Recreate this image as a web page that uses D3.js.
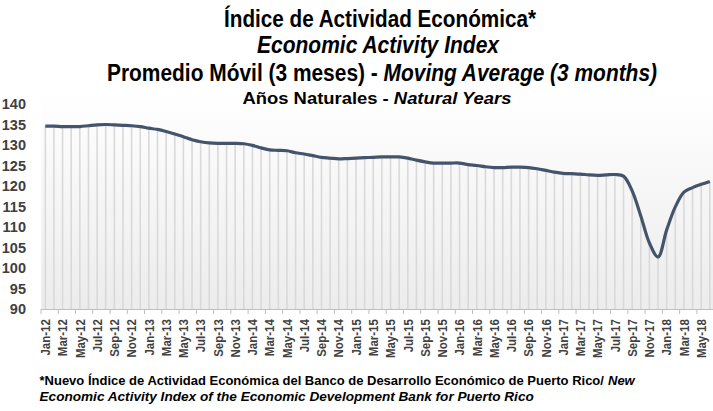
<!DOCTYPE html>
<html>
<head>
<meta charset="utf-8">
<script src="https://cdn.jsdelivr.net/npm/d3@7"></script>
<style>
  html, body { margin: 0; padding: 0; background: #fff; }
  svg { display: block; }
  .narrow { font-family: "Liberation Sans", Arial, sans-serif; font-weight: bold; }
</style>
</head>
<body>
<div id="chart"></div>
<script>
// categorias: meses desde Jan-12 hasta Jun-18
const monthNames = ["Jan", "Feb", "Mar", "Apr", "May", "Jun", "Jul", "Aug", "Sep", "Oct", "Nov", "Dec"];
const years = ["12", "13", "14", "15", "16", "17", "18"];

// valores del indice (promedio movil 3 meses)
const values2012 = [134.6, 134.6, 134.5, 134.5, 134.5, 134.7, 134.9, 135.0, 134.9, 134.8, 134.7, 134.5];
const values2013 = [134.1, 133.8, 133.3, 132.7, 132.0, 131.3, 130.8, 130.5, 130.4, 130.4, 130.4, 130.3];
const values2014 = [129.9, 129.3, 128.8, 128.7, 128.6, 128.1, 127.8, 127.4, 127.0, 126.8, 126.6, 126.7];
const values2015 = [126.8, 126.9, 127.0, 127.1, 127.1, 127.1, 126.8, 126.3, 125.9, 125.6, 125.6, 125.6];
const values2016 = [125.6, 125.2, 125.0, 124.7, 124.5, 124.5, 124.6, 124.6, 124.5, 124.2, 123.8, 123.4];
const values2017 = [123.1, 123.0, 122.9, 122.7, 122.6, 122.7, 122.8, 122.4, 118.8, 112.7, 106.1, 102.7];
const values2018 = [109.3, 114.9, 118.5, 119.6, 120.4, 121.1];

const yTicks = [90, 95, 100, 105, 110, 115, 120, 125, 130, 135, 140];

const values = [].concat(values2012, values2013, values2014, values2015, values2016, values2017, values2018);
const categories = [];
years.forEach(y => monthNames.forEach(m => { if (categories.length < values.length) categories.push(m + "-" + y); }));
const dataset = categories.map((c, i) => ({ cat: c, value: values[i] }));

const width = 713, height = 411;
// area del grafico
const plot = { left: 41, top: 104, bottom: 309, step: 8.63 };
plot.right = plot.left + plot.step * categories.length;

const svg = d3.select("#chart").append("svg")
    .attr("width", width)
    .attr("height", height);

const defs = svg.append("defs");
const grad = defs.append("linearGradient")
    .attr("id", "bgGrad")
    .attr("x1", 0).attr("y1", 0).attr("x2", 0).attr("y2", 1);
grad.append("stop").attr("offset", "0%").attr("stop-color", "#ffffff");
grad.append("stop").attr("offset", "100%").attr("stop-color", "#ececec");

// Escalas
const x = d3.scaleBand()
    .domain(categories)
    .range([plot.left, plot.right])
    .padding(0);

const y = d3.scaleLinear()
    .domain([90, 140])
    .range([plot.bottom, plot.top]);

// fondo del area
svg.append("rect")
    .attr("x", plot.left)
    .attr("y", y(140) - 12)
    .attr("width", plot.right - plot.left)
    .attr("height", plot.bottom - y(140) + 12)
    .attr("fill", "url(#bgGrad)");

const cx = d => x(d.cat) + x.bandwidth() / 2;

// lineas verticales (drop lines)
svg.append("g")
    .selectAll("line")
    .data(dataset)
    .enter()
    .append("line")
    .attr("x1", cx)
    .attr("x2", cx)
    .attr("y1", d => y(d.value))
    .attr("y2", plot.bottom)
    .attr("stroke", "#d9d9d9")
    .attr("stroke-width", 1.6);

// Eje X
const axisX = d3.axisBottom(x)
    .tickValues(categories.filter((c, i) => i % 2 === 0))
    .tickSize(0)
    .tickPadding(0);

const ejeX = svg.append("g")
    .attr("class", "x-axis narrow")
    .attr("transform", "translate(0," + plot.bottom + ")")
    .call(axisX);

ejeX.select(".domain")
    .attr("d", "M" + plot.left + ",0.5H" + plot.right)
    .attr("stroke", "#bfbfbf")
    .attr("stroke-width", 1.2);

// etiquetas giradas y algo estrechas (Arial Narrow en el original)
ejeX.selectAll(".tick text")
    .attr("transform", "rotate(-90) scale(0.85,1)")
    .attr("x", -12)
    .attr("y", 0)
    .attr("dy", "0.35em")
    .attr("text-anchor", "end")
    .attr("fill", "#404040")
    .attr("font-size", 13.5)
    .attr("font-family", null);

// marcas entre categorias cada 2 meses
svg.append("g")
    .selectAll("line")
    .data(categories.filter((c, i) => i % 2 === 0))
    .enter()
    .append("line")
    .attr("x1", d => x(d))
    .attr("x2", d => x(d))
    .attr("y1", plot.bottom)
    .attr("y2", plot.bottom + 5)
    .attr("stroke", "#bfbfbf")
    .attr("stroke-width", 1);

// Eje Y (solo etiquetas)
const axisY = d3.axisLeft(y)
    .tickValues(yTicks)
    .tickSize(0)
    .tickPadding(0);

const ejeY = svg.append("g")
    .attr("class", "y-axis narrow")
    .attr("transform", "translate(26,0)")
    .call(axisY);
ejeY.select(".domain").remove();
ejeY.selectAll(".tick text")
    .attr("fill", "#404040")
    .attr("font-size", 14.5)
    .attr("font-family", null);

// Linea
const line = d3.line()
    .x(cx)
    .y(d => y(d.value))
    .curve(d3.curveCatmullRom.alpha(0.5));

svg.append("path")
    .datum(dataset)
    .attr("d", line)
    .attr("fill", "none")
    .attr("stroke", "#44546a")
    .attr("stroke-width", 3.2)
    .attr("stroke-linejoin", "round");

// Titulos (textLength para imitar la fuente estrecha)
const titles = svg.append("g").attr("class", "narrow").attr("text-anchor", "middle").attr("fill", "#000");

titles.append("text")
    .attr("x", 380).attr("y", 27)
    .attr("font-size", 23)
    .attr("textLength", 312).attr("lengthAdjust", "spacingAndGlyphs")
    .text("Índice de Actividad Económica*");

titles.append("text")
    .attr("x", 378).attr("y", 53)
    .attr("font-size", 23)
    .attr("font-style", "italic")
    .attr("textLength", 242).attr("lengthAdjust", "spacingAndGlyphs")
    .text("Economic Activity Index");

const t3 = titles.append("text")
    .attr("x", 382).attr("y", 81)
    .attr("font-size", 23)
    .attr("textLength", 550).attr("lengthAdjust", "spacingAndGlyphs");
t3.append("tspan").text("Promedio Móvil (3 meses) - ");
t3.append("tspan").attr("font-style", "italic").text("Moving Average (3 months)");

const t4 = titles.append("text")
    .attr("x", 377).attr("y", 104)
    .attr("font-size", 17)
    .attr("textLength", 269).attr("lengthAdjust", "spacingAndGlyphs");
t4.append("tspan").text("Años Naturales - ");
t4.append("tspan").attr("font-style", "italic").text("Natural Years");

// Nota al pie
const foot = svg.append("g").attr("class", "narrow").attr("fill", "#000");
foot.append("text").attr("x", 39.5).attr("y", 385)
    .attr("font-size", 13)
    .text("*Nuevo Índice de Actividad Económica del Banco de Desarrollo Económico de Puerto Rico/");
foot.append("text").attr("x", 608).attr("y", 385)
    .attr("font-size", 13)
    .attr("font-style", "italic")
    .text("New");
foot.append("text").attr("x", 39.5).attr("y", 401)
    .attr("font-size", 13.6)
    .attr("font-style", "italic")
    .text("Economic Activity Index of the Economic Development Bank for Puerto Rico");
</script>
</body>
</html>
